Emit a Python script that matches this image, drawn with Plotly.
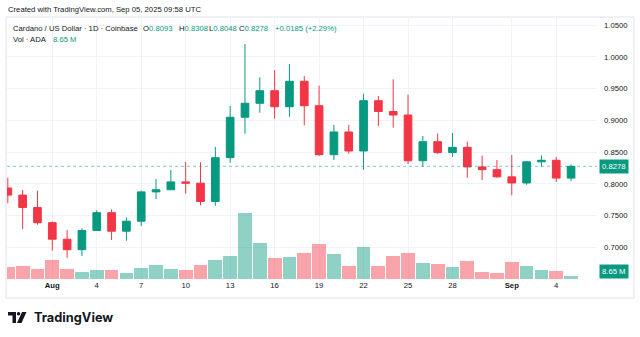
import pandas as pd
import plotly.graph_objects as go

# ---------------- data ----------------
dates = [d.strftime("%Y-%m-%d") for d in pd.date_range("2025-07-29", "2025-09-05", freq="D")]

opens = [0.7937, 0.7825, 0.7630, 0.7392, 0.7132, 0.6967, 0.7269, 0.7549, 0.7258, 0.7415,
         0.7876, 0.7910, 0.8033, 0.8013, 0.7725, 0.8414, 0.9049, 0.9269, 0.9467, 0.9215,
         0.9615, 0.9231, 0.8461, 0.8818, 0.8519, 0.9310, 0.9140, 0.9085, 0.8365, 0.8665,
         0.8495, 0.8577, 0.8268, 0.8225, 0.8112, 0.8016, 0.8349, 0.8373, 0.8093]
highs = [0.8099, 0.7906, 0.7895, 0.7413, 0.7277, 0.7303, 0.7586, 0.7602, 0.7476, 0.7895,
         0.8079, 0.8220, 0.8346, 0.8341, 0.8582, 0.9226, 1.0201, 0.9678, 0.9792, 0.9887,
         0.9698, 0.9546, 0.8928, 0.8928, 0.9420, 0.9384, 0.9646, 0.9404, 0.8755, 0.8791,
         0.8802, 0.8665, 0.8445, 0.8377, 0.8456, 0.8362, 0.8451, 0.8425, 0.8308]
lows = [0.7697, 0.7292, 0.7360, 0.6951, 0.6841, 0.6868, 0.7261, 0.7119, 0.7108, 0.7340,
        0.7764, 0.7905, 0.7847, 0.7665, 0.7659, 0.8335, 0.8791, 0.9121, 0.9027, 0.9058,
        0.8923, 0.8440, 0.8377, 0.8476, 0.8225, 0.8912, 0.8885, 0.8314, 0.8272, 0.8472,
        0.8429, 0.8099, 0.8063, 0.8099, 0.7822, 0.7989, 0.8272, 0.8031, 0.8048]
closes = [0.7825, 0.7630, 0.7392, 0.7132, 0.6967, 0.7269, 0.7549, 0.7258, 0.7415, 0.7876,
          0.7910, 0.8033, 0.8013, 0.7725, 0.8414, 0.9049, 0.9269, 0.9467, 0.9215, 0.9615,
          0.9231, 0.8461, 0.8818, 0.8519, 0.9310, 0.9140, 0.9085, 0.8365, 0.8665, 0.8495,
          0.8577, 0.8268, 0.8225, 0.8112, 0.8016, 0.8349, 0.8373, 0.8093, 0.8278]
volumes_m = [34, 37, 28, 54, 29, 21, 26, 26, 17, 31,
             39, 29, 26, 40, 55, 65, 186, 101, 59, 62,
             73, 99, 70, 37, 91, 37, 66, 73, 45, 42,
             34, 50, 20, 17, 47, 37, 25, 23, 8.65]

x_tick_vals = ["2025-08-01", "2025-08-04", "2025-08-07", "2025-08-10", "2025-08-13",
               "2025-08-16", "2025-08-19", "2025-08-22", "2025-08-25", "2025-08-28",
               "2025-09-01", "2025-09-04"]
x_tick_text = ["<b>Aug</b>", "4", "7", "10", "13", "16", "19", "22", "25", "28", "<b>Sep</b>", "4"]
y_tick_vals = [0.70, 0.75, 0.80, 0.85, 0.90, 0.95, 1.00, 1.05]

# ---------------- style ----------------
GREEN = "#089981"
RED = "#F23645"
TXT = "#131722"
GRID = "#f0f3fa"
FONT = "Liberation Sans, Arial, sans-serif"
FS = 7.7

L, R, T, B = 7, 597, 17, 279
W, H = R - L, B - T


def px(x):
    return (x - L) / W


def py(y):
    return (B - y) / H


vol_colors = ["rgba(8,153,129,0.45)" if c >= o else "rgba(242,54,69,0.45)"
              for o, c in zip(opens, closes)]

fig = go.Figure()
fig.add_trace(go.Bar(
    x=dates, y=volumes_m, marker=dict(color=vol_colors, line=dict(width=0)),
    width=0.93 * 86400000, yaxis="y", hoverinfo="skip", showlegend=False))
fig.add_trace(go.Candlestick(
    x=dates, open=opens, high=highs, low=lows, close=closes, yaxis="y2",
    increasing=dict(line=dict(color=GREEN, width=1), fillcolor=GREEN),
    decreasing=dict(line=dict(color=RED, width=1), fillcolor=RED),
    whiskerwidth=0, showlegend=False))

last_c = closes[-1]
chg = closes[-1] - closes[-2]
pct = chg / closes[-2] * 100

shapes = [
    dict(type="line", xref="paper", yref="y2", x0=0, x1=1, y0=last_c, y1=last_c,
         line=dict(color=GREEN, width=1, dash="dot"), opacity=0.5),
    dict(type="rect", xref="paper", yref="paper", x0=px(6), x1=px(634), y0=py(298), y1=py(17),
         line=dict(color="#e0e3eb", width=1), fillcolor="rgba(0,0,0,0)", layer="below"),
    # TradingView logo glyph
    dict(type="path", xref="paper", yref="paper",
         path=f"M {px(8)},{py(312)} L {px(16)},{py(312)} L {px(16)},{py(323)} L {px(12.5)},{py(323)} "
              f"L {px(12.5)},{py(315.5)} L {px(8)},{py(315.5)} Z",
         fillcolor=TXT, line=dict(width=0)),
    dict(type="circle", xref="paper", yref="paper", x0=px(16.8), x1=px(20.3), y0=py(315.5), y1=py(312),
         fillcolor=TXT, line=dict(width=0)),
    dict(type="path", xref="paper", yref="paper",
         path=f"M {px(22)},{py(312)} L {px(26.5)},{py(312)} L {px(21.5)},{py(323)} L {px(17)},{py(323)} Z",
         fillcolor=TXT, line=dict(width=0)),
]


def ann(x, y, text, color=TXT, size=FS, **kw):
    d = dict(xref="paper", yref="paper", x=px(x), y=py(y), text=text, showarrow=False,
             xanchor="left", yanchor="middle", font=dict(family=FONT, size=size, color=color))
    d.update(kw)
    return d


def gv(s):
    return f"<span style='color:{GREEN}'>{s}</span>"


annotations = [
    ann(6, 10, "Created with TradingView.com, Sep 05, 2025 09:58 UTC"),
    ann(11, 28, "Cardano / US Dollar · 1D · Coinbase"),
    ann(141, 28, "O" + gv(f"{opens[-1]:.4f}")),
    ann(177, 28, "H" + gv(f"{highs[-1]:.4f}")),
    ann(207, 28, "L" + gv(f"{lows[-1]:.4f}")),
    ann(237, 28, "C" + gv(f"{closes[-1]:.4f}")),
    ann(273, 28, f"{chg:+.4f} ({pct:+.2f}%)", color=GREEN),
    ann(11, 40, "Vol · ADA"),
    ann(51, 40, f"{volumes_m[-1]:.2f} M", color=GREEN),
    ann(32, 317, "<b>TradingView</b>", font=dict(family="Inter, Roboto, sans-serif", size=12.8, color=TXT)),
    dict(xref="paper", yref="y2", x=1, y=last_c, text=f"{last_c:.4f}", showarrow=False,
         xanchor="left", yanchor="middle", xshift=2, bgcolor=GREEN, borderpad=2,
         font=dict(family=FONT, size=FS, color="white")),
    dict(xref="paper", yref="y", x=1, y=0, text=f"{volumes_m[-1]:.2f} M", showarrow=False,
         xanchor="left", yanchor="bottom", xshift=2, bgcolor=GREEN, borderpad=2,
         font=dict(family=FONT, size=FS, color="white")),
]

fig.update_layout(
    width=640, height=337, autosize=False,
    margin=dict(l=L, r=640 - R, t=T, b=337 - B),
    paper_bgcolor="white", plot_bgcolor="white",
    showlegend=False, boxgap=0.26, bargap=0,
    xaxis=dict(type="date", range=["2025-07-28 22:40", "2025-09-06 18:00"],
               tickvals=x_tick_vals, ticktext=x_tick_text, showgrid=True, gridcolor=GRID,
               gridwidth=1, zeroline=False, showline=False, ticks="",
               tickfont=dict(family=FONT, size=FS, color=TXT), rangeslider=dict(visible=False),
               fixedrange=True),
    yaxis=dict(range=[0, 741.5], visible=False, showgrid=False, zeroline=False, fixedrange=True),
    yaxis2=dict(overlaying="y", side="right", range=[0.6506, 1.0626], tickvals=y_tick_vals,
                tickformat=".4f", showgrid=True, gridcolor=GRID, zeroline=False, showline=False,
                ticks="", ticklabelstandoff=6, tickfont=dict(family=FONT, size=FS, color=TXT),
                fixedrange=True),
    shapes=shapes, annotations=annotations,
)

fig.write_html("out.html")
